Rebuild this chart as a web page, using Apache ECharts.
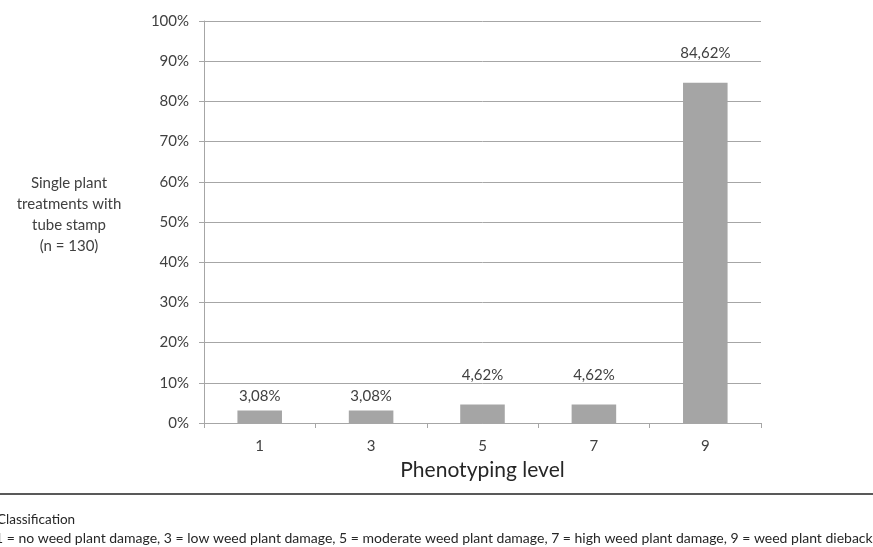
<!DOCTYPE html>
<html>
<head>
<meta charset="utf-8">
<script src="https://cdn.jsdelivr.net/npm/echarts@6/dist/echarts.min.js"></script>
<style>
  html, body { margin: 0; padding: 0; background: #fff; }
  #chart { width: 873px; height: 547px; }
</style>
</head>
<body>
<div id="chart"></div>
<script>
// Phenotyping levels and the share of single plant treatments at each level
const levels = ['1', '3', '5', '7', '9'];
const shares = [3.08, 3.08, 4.62, 4.62, 84.62];
const yTicks = [0, 10, 20, 30, 40, 50, 60, 70, 80, 90, 100];

const FONT = 'Lato, "Open Sans", sans-serif';
const TXT = '#404040';

// the two lowest labels sit closer to their bars than the rest
const labelGap = i => (i < 2 ? 7 : 22);

const chart = echarts.init(document.getElementById('chart'), null, { renderer: 'canvas' });

chart.setOption({
  animation: false,
  backgroundColor: '#fff',
  grid: { left: 204, right: 112, top: 21, bottom: 124, containLabel: false },
  xAxis: {
    type: 'category',
    data: levels,
    name: 'Phenotyping level',
    nameLocation: 'middle',
    nameGap: 37,
    nameTextStyle: { fontFamily: FONT, fontSize: 21, color: '#262626' },
    axisLine: { lineStyle: { color: '#a6a6a6', width: 1 } },
    axisTick: { show: true, length: 5, alignWithLabel: false, lineStyle: { color: '#a6a6a6' } },
    axisLabel: { fontFamily: FONT, fontSize: 15, color: TXT, margin: 16 }
  },
  yAxis: {
    type: 'value',
    min: yTicks[0],
    max: yTicks[yTicks.length - 1],
    interval: 10,
    axisLine: { show: true, lineStyle: { color: '#a6a6a6', width: 1 } },
    axisTick: { show: true, length: 5, inside: false, lineStyle: { color: '#a6a6a6' } },
    axisLabel: {
      fontFamily: FONT, fontSize: 15, color: TXT, margin: 15,
      formatter: v => v + '%'
    },
    splitLine: { lineStyle: { color: '#a6a6a6', width: 1 } }
  },
  series: [{
    type: 'bar',
    data: shares.map((v, i) => ({ value: v, label: { distance: labelGap(i) } })),
    barWidth: '40%',
    itemStyle: { color: '#a5a5a5' },
    label: {
      show: true,
      position: 'top',
      fontFamily: FONT, fontSize: 15, color: TXT,
      formatter: p => p.value.toFixed(2).replace('.', ',') + '%'
    }
  }],
  graphic: [
    {
      type: 'text',
      x: 69, y: 173,
      style: {
        text: 'Single plant\ntreatments with\ntube stamp\n(n = 130)',
        align: 'center',
        verticalAlign: 'top',
        fontFamily: FONT, fontSize: 15, lineHeight: 21, fill: TXT
      }
    },
    {
      type: 'line',
      shape: { x1: 0, y1: 494, x2: 873, y2: 494 },
      style: { stroke: '#595959', lineWidth: 2 }
    },
    {
      type: 'text',
      x: -3, y: 520,
      style: { text: 'Classification', verticalAlign: 'middle', fontFamily: FONT, fontSize: 13.5, fill: '#262626' }
    },
    {
      type: 'text',
      x: -5, y: 538,
      style: {
        text: '1 = no weed plant damage, 3 = low weed plant damage, 5 = moderate weed plant damage, 7 = high weed plant damage, 9 = weed plant dieback',
        verticalAlign: 'middle',
        fontFamily: FONT, fontSize: 14, fill: '#262626'
      }
    }
  ]
});
</script>
</body>
</html>
